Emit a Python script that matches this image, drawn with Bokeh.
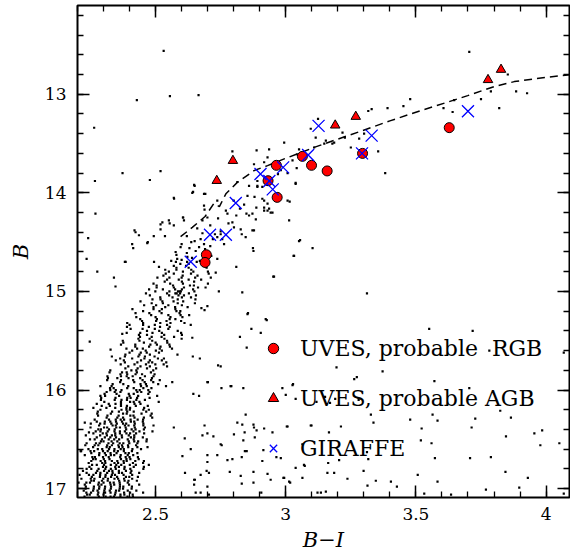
from bokeh.plotting import figure
from bokeh.models import (Range1d, LinearAxis, SingleIntervalTicker, Legend, LegendItem,
                          CustomJSTickFormatter)
from bokeh.embed import file_html
from bokeh.resources import INLINE

# ---------------- data ----------------
# UVES probable RGB stars (B-I, B)
rgb_bi = [2.964, 2.932, 2.967, 2.695, 2.690, 3.064, 3.099, 3.159, 3.295, 3.628]
rgb_b = [13.721, 13.877, 14.046, 14.628, 14.706, 13.630, 13.721, 13.778, 13.600, 13.339]

# UVES probable AGB stars
agb_bi = [2.797, 2.735, 3.190, 3.269, 3.777, 3.827]
agb_b = [13.674, 13.877, 13.315, 13.227, 12.854, 12.750]

# GIRAFFE stars
gir_bi = [2.990, 2.903, 2.937, 2.950, 2.808, 2.709, 2.770, 2.635, 3.086, 3.126, 3.293, 3.330, 3.700]
gir_b = [13.742, 13.809, 13.880, 13.965, 14.103, 14.425, 14.425, 14.699, 13.616, 13.321, 13.600, 13.420, 13.173]

# dashed fiducial line
line_bi = [2.596, 2.641, 2.690, 2.724, 2.745, 2.770, 2.814, 2.878, 2.930, 2.994, 3.050, 3.109,
           3.200, 3.295, 3.400, 3.519, 3.610, 3.699, 3.801, 3.878, 3.980, 4.096]
line_b = [14.445, 14.350, 14.240, 14.107, 14.140, 14.010, 13.894, 13.775, 13.724, 13.656, 13.600, 13.539,
          13.455, 13.369, 13.270, 13.166, 13.090, 13.014, 12.922, 12.872, 12.835, 12.800]

# photometry: rows of (B, [B-I values]) along the red giant branch
rgb_faint_rows = [
    (17.02, [2.224, 2.260, 2.277, 2.303, 2.324, 2.348, 2.360, 2.393, 2.426]),
    (16.94, [2.204, 2.234, 2.248, 2.282, 2.300, 2.325, 2.339, 2.362, 2.393]),
    (17.06, [2.237, 2.247, 2.278, 2.300, 2.344, 2.365, 2.380, 2.412]),
    (16.98, [2.232, 2.263, 2.284, 2.306, 2.329, 2.363, 2.376, 2.409]),
    (17.08, [2.227, 2.282, 2.308, 2.327, 2.340, 2.365, 2.392, 2.413]),
    (16.96, [2.228, 2.280, 2.292, 2.327, 2.341, 2.363, 2.398, 2.437]),
    (17.04, [2.234, 2.252, 2.280, 2.306, 2.327, 2.346, 2.379, 2.402, 2.452]),
    (17.00, [2.231, 2.262, 2.283, 2.305, 2.328, 2.362, 2.375, 2.408]),
    (16.86, [2.208, 2.244, 2.261, 2.287, 2.308, 2.332, 2.344, 2.377, 2.410]),
    (16.78, [2.246, 2.298, 2.310, 2.345, 2.359, 2.381, 2.416, 2.455]),
    (16.90, [2.215, 2.251, 2.265, 2.299, 2.317, 2.342, 2.356, 2.379, 2.410]),
    (16.82, [2.221, 2.276, 2.302, 2.321, 2.334, 2.359, 2.386, 2.407]),
    (16.92, [2.253, 2.263, 2.294, 2.316, 2.360, 2.381, 2.396, 2.428]),
    (16.80, [2.235, 2.253, 2.281, 2.307, 2.328, 2.347, 2.380, 2.403, 2.453]),
    (16.88, [2.255, 2.286, 2.307, 2.329, 2.352, 2.386, 2.399, 2.432]),
    (16.84, [2.235, 2.271, 2.288, 2.314, 2.335, 2.359, 2.371, 2.404, 2.437]),
    (16.70, [2.260, 2.270, 2.301, 2.323, 2.367, 2.388, 2.403, 2.435]),
    (16.62, [2.214, 2.250, 2.264, 2.298, 2.316, 2.341, 2.355, 2.378, 2.409]),
    (16.74, [2.243, 2.295, 2.307, 2.342, 2.356, 2.378, 2.413, 2.452]),
    (16.66, [2.228, 2.283, 2.309, 2.328, 2.341, 2.366, 2.393, 2.414]),
    (16.76, [2.256, 2.274, 2.302, 2.328, 2.349, 2.368, 2.401, 2.424, 2.474]),
    (16.64, [2.253, 2.284, 2.305, 2.327, 2.350, 2.384, 2.397, 2.430]),
    (16.72, [2.253, 2.289, 2.306, 2.332, 2.353, 2.377, 2.389, 2.422, 2.455]),
    (16.68, [2.257, 2.267, 2.298, 2.320, 2.364, 2.385, 2.400, 2.432]),
    (16.54, [2.235, 2.271, 2.285, 2.319, 2.337, 2.362, 2.376, 2.399, 2.430]),
    (16.46, [2.232, 2.287, 2.313, 2.332, 2.345, 2.370, 2.397, 2.418]),
    (16.58, [2.260, 2.312, 2.324, 2.359, 2.373, 2.395, 2.430, 2.469]),
    (16.50, [2.248, 2.266, 2.294, 2.320, 2.341, 2.360, 2.393, 2.416, 2.466]),
    (16.60, [2.242, 2.278, 2.295, 2.321, 2.342, 2.366, 2.378, 2.411, 2.444]),
    (16.48, [2.274, 2.305, 2.326, 2.348, 2.371, 2.405, 2.418, 2.451]),
    (16.56, [2.230, 2.266, 2.280, 2.314, 2.332, 2.357, 2.371, 2.394, 2.425]),
    (16.52, [2.290, 2.300, 2.331, 2.353, 2.397, 2.418, 2.433, 2.465]),
    (16.38, [2.250, 2.302, 2.314, 2.349, 2.363, 2.385, 2.420, 2.459]),
    (16.30, [2.266, 2.321, 2.347, 2.366, 2.379, 2.404, 2.431, 2.452]),
    (16.42, [2.270, 2.288, 2.316, 2.342, 2.363, 2.382, 2.415, 2.438, 2.488]),
    (16.34, [2.251, 2.287, 2.304, 2.330, 2.351, 2.375, 2.387, 2.420, 2.453]),
    (16.44, [2.261, 2.297, 2.311, 2.345, 2.363, 2.388, 2.402, 2.425, 2.456]),
    (16.32, [2.274, 2.305, 2.326, 2.348, 2.371, 2.405, 2.418, 2.451]),
    (16.40, [2.280, 2.290, 2.321, 2.343, 2.387, 2.408, 2.423, 2.455]),
    (16.36, [2.283, 2.335, 2.347, 2.382, 2.396, 2.418, 2.453, 2.492]),
]

rgb_mid_rows = [
    (16.22, [2.278, 2.333, 2.359, 2.391, 2.416, 2.464]),
    (16.14, [2.274, 2.320, 2.346, 2.367, 2.419, 2.442]),
    (16.26, [2.279, 2.315, 2.358, 2.403, 2.415, 2.481]),
    (16.18, [2.261, 2.311, 2.345, 2.388, 2.402, 2.456]),
    (16.28, [2.312, 2.353, 2.375, 2.419, 2.455, 2.487]),
    (16.16, [2.293, 2.324, 2.367, 2.390, 2.424, 2.470]),
    (16.24, [2.276, 2.328, 2.375, 2.389, 2.446, 2.485]),
    (16.20, [2.288, 2.369, 2.388, 2.401, 2.453, 2.474]),
    (16.06, [2.288, 2.306, 2.360, 2.400, 2.433, 2.506]),
    (15.98, [2.325, 2.339, 2.391, 2.416, 2.453, 2.484]),
    (16.10, [2.290, 2.343, 2.369, 2.390, 2.426, 2.459]),
    (16.02, [2.312, 2.343, 2.365, 2.430, 2.445, 2.477]),
    (16.12, [2.303, 2.367, 2.402, 2.416, 2.438, 2.512]),
    (16.00, [2.326, 2.347, 2.369, 2.426, 2.439, 2.472]),
    (16.08, [2.291, 2.346, 2.391, 2.404, 2.429, 2.477]),
    (16.04, [2.304, 2.350, 2.397, 2.416, 2.472]),
    (15.90, [2.314, 2.367, 2.414, 2.450, 2.483, 2.516]),
    (15.82, [2.323, 2.371, 2.389, 2.428, 2.482]),
    (15.94, [2.335, 2.376, 2.442, 2.463, 2.510]),
    (15.86, [2.315, 2.367, 2.389, 2.412, 2.459, 2.492]),
    (15.96, [2.331, 2.395, 2.444, 2.466, 2.540]),
    (15.84, [2.365, 2.391, 2.423, 2.448, 2.496]),
    (15.92, [2.364, 2.418, 2.458, 2.491, 2.564]),
    (15.88, [2.317, 2.353, 2.396, 2.441, 2.486]),
    (15.74, [2.366, 2.419, 2.463, 2.499, 2.531]),
    (15.66, [2.332, 2.382, 2.434, 2.459, 2.496]),
    (15.78, [2.384, 2.431, 2.467, 2.502]),
    (15.70, [2.347, 2.378, 2.444, 2.478, 2.524]),
    (15.80, [2.326, 2.407, 2.426, 2.491]),
    (15.68, [2.364, 2.410, 2.457, 2.509, 2.532]),
    (15.76, [2.395, 2.442, 2.478, 2.544]),
    (15.72, [2.382, 2.430, 2.473, 2.487, 2.541]),
    (15.58, [2.388, 2.429, 2.451, 2.516, 2.563]),
    (15.50, [2.374, 2.438, 2.487, 2.544]),
    (15.62, [2.400, 2.443, 2.466, 2.513]),
    (15.54, [2.367, 2.422, 2.480, 2.505, 2.553]),
    (15.64, [2.384, 2.438, 2.478, 2.584]),
    (15.52, [2.376, 2.455, 2.500, 2.545]),
    (15.60, [2.410, 2.462, 2.501, 2.524]),
    (15.56, [2.422, 2.475, 2.519, 2.555]),
]

rgb_bright_rows = [
    (15.42, [2.389, 2.441, 2.488, 2.524, 2.598]),
    (15.34, [2.400, 2.452, 2.497, 2.544]),
    (15.46, [2.440, 2.485, 2.523, 2.571]),
    (15.38, [2.404, 2.450, 2.497, 2.549]),
    (15.48, [2.434, 2.477, 2.534, 2.600]),
    (15.36, [2.390, 2.474, 2.517, 2.554]),
    (15.44, [2.436, 2.467, 2.533, 2.601]),
    (15.40, [2.467, 2.514, 2.585]),
    (15.26, [2.426, 2.500, 2.557, 2.603]),
    (15.18, [2.411, 2.492, 2.524, 2.576]),
    (15.30, [2.448, 2.502, 2.542, 2.598]),
    (15.22, [2.423, 2.476, 2.523, 2.592]),
    (15.32, [2.452, 2.518, 2.557, 2.611]),
    (15.20, [2.452, 2.515, 2.580, 2.595]),
    (15.28, [2.441, 2.505, 2.554, 2.576]),
    (15.24, [2.483, 2.549, 2.596, 2.629]),
    (15.16, [2.492, 2.537, 2.575, 2.623]),
    (15.14, [2.456, 2.502, 2.549, 2.601]),
    (15.12, [2.485, 2.528, 2.585, 2.651]),
    (15.10, [2.442, 2.526, 2.569, 2.606]),
    (15.08, [2.488, 2.519, 2.585, 2.653]),
    (15.06, [2.518, 2.565, 2.601, 2.636]),
    (15.04, [2.478, 2.552, 2.588, 2.609, 2.655]),
    (15.02, [2.463, 2.544, 2.576, 2.581, 2.594, 2.628]),
    (15.00, [2.499, 2.553, 2.586, 2.593, 2.597, 2.649]),
    (14.98, [2.475, 2.528, 2.575, 2.601, 2.644]),
    (14.96, [2.504, 2.570, 2.609, 2.663]),
    (14.94, [2.504, 2.567, 2.632, 2.647]),
    (14.92, [2.492, 2.556, 2.605, 2.701]),
    (14.90, [2.535, 2.601, 2.648]),
    (14.88, [2.544, 2.589, 2.627, 2.675]),
    (14.86, [2.507, 2.553, 2.600, 2.652]),
    (14.78, [2.537, 2.580, 2.637]),
    (14.70, [2.494, 2.578, 2.621, 2.658]),
    (14.82, [2.539, 2.570, 2.636, 2.704]),
    (14.74, [2.570, 2.617, 2.688]),
    (14.84, [2.530, 2.604, 2.661]),
    (14.72, [2.595, 2.627, 2.679]),
    (14.80, [2.551, 2.605, 2.645, 2.701]),
    (14.76, [2.580, 2.627, 2.696]),
]

# brighter giants, (B-I, B) pairs
branch_stars = [
    (2.385, 14.70), (2.410, 14.52), (2.414, 14.56), (2.423, 14.40), (2.436, 14.43), (2.470, 14.50),
    (2.493, 14.44), (2.519, 14.32), (2.519, 14.37), (2.536, 14.44), (2.554, 14.31), (2.570, 14.33),
    (2.570, 14.05), (2.605, 14.25), (2.609, 14.28), (2.641, 14.00), (2.650, 13.93), (2.637, 14.50),
    (2.673, 14.47), (2.667, 14.55), (2.654, 14.59), (2.686, 14.52), (2.691, 14.01), (2.686, 14.13),
    (2.680, 14.28), (2.699, 14.25), (2.728, 14.42), (2.737, 14.45), (2.750, 14.42), (2.756, 14.47),
    (2.763, 14.52), (2.776, 14.21), (2.795, 14.30), (2.801, 14.35), (2.824, 14.16), (2.827, 14.37),
    (2.831, 14.42), (2.846, 14.45), (2.853, 14.03), (2.859, 14.23), (2.872, 14.21), (2.878, 14.38),
    (2.876, 14.59), (2.885, 14.27), (2.891, 13.94), (2.910, 14.06), (2.917, 14.15), (2.930, 14.11),
    (2.936, 14.16), (2.949, 14.20), (3.007, 14.08), (3.013, 14.28), (3.032, 14.64), (3.038, 13.91),
    (3.051, 14.49), (2.577, 14.60), (2.583, 14.67), (2.622, 14.65), (2.596, 14.55), (2.714, 14.64),
    (2.737, 14.67), (2.560, 14.69), (2.600, 14.68), (2.640, 14.66), (2.670, 14.69), (2.700, 14.62),
    (2.620, 14.61), (2.580, 14.63), (2.690, 14.57), (2.630, 14.56), (2.710, 14.54), (2.600, 14.52),
    (2.650, 14.49), (2.720, 14.47), (2.620, 14.44), (2.680, 14.41), (2.750, 14.39), (2.660, 14.36),
    (2.710, 14.33), (2.780, 14.31), (2.740, 14.26), (2.810, 14.23), (2.770, 14.18), (2.840, 14.12),
    (2.800, 14.08), (2.880, 14.04),
]

upper_stars = [
    (2.878, 13.71), (2.917, 13.69), (2.930, 13.64), (2.955, 13.74), (2.891, 13.88), (2.859, 13.93),
    (2.891, 13.93), (2.917, 14.08), (2.930, 14.18), (2.942, 14.20), (2.917, 14.18), (2.887, 14.15),
    (2.849, 14.21), (2.872, 14.38), (2.910, 13.94), (2.970, 13.81), (2.981, 13.77), (3.026, 13.67),
    (3.045, 13.61), (3.051, 13.56), (3.007, 13.80), (3.042, 13.75), (3.109, 13.54), (3.148, 13.50),
    (3.179, 13.50), (3.218, 13.39), (3.227, 13.44), (3.186, 13.49), (3.154, 13.47), (3.115, 13.44),
    (3.096, 13.35), (3.124, 13.25), (3.250, 13.54), (3.282, 13.45), (3.301, 13.40), (3.355, 13.58),
    (3.382, 13.80), (3.038, 13.90), (3.015, 14.09), (2.994, 13.49), (3.055, 14.48), (3.103, 14.56),
    (3.030, 14.64), (3.317, 13.17), (3.330, 13.15), (3.391, 13.14), (3.452, 13.12), (3.478, 13.05),
    (3.606, 13.14), (3.641, 13.18), (3.647, 13.06), (3.750, 13.05), (3.788, 12.97), (3.820, 13.14),
    (3.853, 12.80), (3.885, 12.97), (3.927, 12.99), (3.705, 12.57), (2.795, 13.58), (2.814, 13.89),
    (2.888, 13.57), (2.936, 13.56),
]

field_stars = [
    (2.531, 12.56), (2.428, 13.06), (2.555, 13.02), (2.665, 13.01), (2.264, 13.34), (2.373, 13.80),
    (2.519, 13.78), (2.267, 13.88), (2.478, 13.87), (2.571, 14.06), (2.269, 14.21), (2.241, 14.46),
    (2.419, 14.38), (2.468, 14.51), (2.526, 14.30), (2.551, 14.28), (2.606, 14.25), (2.648, 13.92),
    (2.644, 13.99), (2.686, 14.01), (2.688, 14.17), (2.737, 14.08), (2.235, 14.67), (2.276, 14.80),
    (2.382, 14.70), (2.340, 14.86), (2.513, 14.75), (2.874, 14.56), (2.810, 14.75), (2.955, 14.85),
    (2.833, 15.01), (2.952, 14.85), (2.855, 15.22), (2.927, 15.29), (2.868, 15.38), (2.904, 15.42),
    (2.824, 15.46), (2.850, 15.57), (2.750, 15.76), (2.701, 15.92), (2.753, 15.98), (2.791, 15.96),
    (2.837, 15.98), (2.645, 16.04), (2.667, 16.06), (2.987, 15.98), (3.026, 15.95), (3.000, 16.05),
    (3.038, 16.09), (2.846, 16.25), (2.814, 16.33), (2.833, 16.35), (2.876, 16.35), (2.917, 16.39),
    (2.688, 16.36), (2.722, 16.47), (2.680, 16.46), (2.699, 16.44), (2.949, 16.43), (2.888, 16.41),
    (2.842, 16.43), (2.837, 16.51), (2.881, 16.48), (3.007, 16.37), (3.099, 16.36), (2.612, 16.49),
    (2.754, 16.56), (2.914, 16.61), (2.850, 16.62), (2.635, 16.60), (2.699, 16.66), (2.737, 16.66),
    (2.776, 16.71), (2.795, 16.70), (2.831, 16.68), (2.910, 16.72), (2.964, 16.68), (2.981, 16.69),
    (2.699, 16.73), (2.613, 16.84), (2.673, 16.86), (2.696, 16.82), (2.785, 16.83), (2.827, 16.87),
    (2.876, 16.83), (2.942, 16.91), (2.991, 16.89), (3.038, 16.79), (3.073, 16.77), (3.064, 16.89),
    (2.651, 16.91), (2.699, 16.98), (2.831, 16.95), (2.876, 16.94), (3.017, 16.94), (2.654, 17.04),
    (2.705, 17.06), (2.906, 17.04), (3.122, 17.04), (3.312, 15.02), (3.551, 15.38), (3.718, 15.40),
    (3.195, 15.77), (3.273, 15.87), (3.263, 15.89), (3.372, 15.81), (3.571, 15.91), (3.705, 15.98),
    (4.068, 15.62), (3.782, 15.60), (3.824, 16.21), (3.865, 16.28), (3.728, 16.29), (3.564, 16.25),
    (3.583, 16.31), (3.478, 16.30), (3.327, 16.25), (3.337, 16.33), (3.170, 16.13), (3.118, 16.12),
    (3.151, 16.07), (3.028, 15.94), (3.096, 16.36), (3.166, 16.43), (3.212, 16.37), (3.004, 16.37),
    (3.522, 16.39), (3.714, 16.38), (3.846, 16.47), (3.955, 16.44), (3.985, 16.41), (3.978, 16.56),
    (4.051, 16.54), (3.519, 16.51), (3.560, 16.54), (3.573, 16.69), (3.708, 16.69), (3.788, 16.68),
    (3.312, 16.63), (3.317, 16.70), (3.163, 16.74), (3.205, 16.71), (3.070, 16.76), (3.160, 16.84),
    (3.186, 16.84), (3.237, 16.90), (3.299, 16.82), (3.346, 16.92), (3.404, 16.93), (3.427, 16.98),
    (3.507, 16.86), (3.583, 16.93), (3.844, 16.83), (3.930, 16.89), (3.314, 16.97), (3.013, 16.93),
    (3.135, 17.04), (3.154, 17.03), (3.532, 17.05), (3.635, 17.06), (3.769, 17.01), (3.897, 16.99),
    (4.068, 17.05), (3.064, 16.55), (3.190, 16.09), (3.280, 16.10), (2.743, 15.00), (2.731, 14.81),
    (2.712, 14.86), (2.692, 14.96), (2.699, 15.15), (2.676, 15.17), (2.688, 15.19), (2.635, 15.34),
    (2.641, 15.47), (2.346, 14.95), (2.391, 15.32), (2.372, 15.43), (2.247, 15.51), (2.228, 16.33),
    (2.327, 15.59), (2.288, 15.96), (2.244, 16.43), (2.212, 16.62), (2.570, 16.38), (2.603, 16.67),
    (2.648, 16.91), (2.673, 17.04), (2.705, 16.84), (2.750, 16.55), (2.788, 15.96), (2.853, 15.23),
    (2.670, 15.68), (2.643, 15.66), (2.699, 15.92), (2.740, 15.75), (2.923, 15.28), (2.801, 16.45),
    (2.843, 16.62), (2.878, 16.38), (2.930, 16.85), (2.994, 16.89), (2.648, 16.96),
]

legend_labels = ["UVES, probable\u00a0\u00a0RGB", "UVES, probable AGB", "GIRAFFE"]

# ---------------- assemble photometry ----------------
phot_bi, phot_b = [], []
for rows in (rgb_faint_rows, rgb_mid_rows, rgb_bright_rows):
    for b, row in rows:
        for bi in row:
            phot_bi.append(bi)
            phot_b.append(b)
for pairs in (branch_stars, upper_stars, field_stars):
    for bi, b in pairs:
        phot_bi.append(bi)
        phot_b.append(b)

# ---------------- figure ----------------
p = figure(width=570, height=554, x_range=Range1d(2.2, 4.09), y_range=Range1d(17.09, 12.1),
           output_backend="svg", toolbar_location=None,
           min_border_left=77, min_border_right=1, min_border_top=5, min_border_bottom=57)
p.xgrid.visible = False
p.ygrid.visible = False
p.outline_line_color = "black"
p.outline_line_width = 2
p.background_fill_color = "white"
p.border_fill_color = "white"

SERIF = "DejaVu Serif"


def style_axis(ax, interval, show):
    ax.ticker = SingleIntervalTicker(interval=interval, num_minor_ticks=5)
    ax.axis_line_color = None
    ax.major_tick_in = 12
    ax.major_tick_out = 0
    ax.minor_tick_in = 6
    ax.minor_tick_out = 0
    ax.major_tick_line_width = 1.5
    ax.minor_tick_line_width = 1.3
    ax.major_tick_line_color = "black"
    ax.minor_tick_line_color = "black"
    if show:
        ax.major_label_text_font = SERIF
        ax.major_label_text_font_size = "17px"
        ax.major_label_text_color = "black"
        ax.axis_label_text_font = SERIF
        ax.axis_label_text_font_size = "21px"
        ax.axis_label_text_font_style = "italic"
        ax.axis_label_text_color = "black"
    else:
        # tick marks only: no tick labels on the mirrored axes
        ax.formatter = CustomJSTickFormatter(code="return '';")
        ax.major_label_text_font_size = "1px"
        ax.major_label_standoff = 0
        ax.axis_label = None


xax = p.xaxis[0]
yax = p.yaxis[0]
style_axis(xax, 0.5, True)
style_axis(yax, 1.0, True)
xax.formatter = CustomJSTickFormatter(code="return String(Math.round(tick*10)/10);")
xax.axis_label = "B\u2212I"
yax.axis_label = "B"
xax.major_label_standoff = 10
xax.axis_label_standoff = 5
yax.major_label_standoff = 11
yax.axis_label_standoff = 9

top_ax = LinearAxis()
right_ax = LinearAxis()
style_axis(top_ax, 0.5, False)
style_axis(right_ax, 1.0, False)
p.add_layout(top_ax, "above")
p.add_layout(right_ax, "right")

# photometry dots
p.scatter(phot_bi, phot_b, marker="square", size=2.2, fill_color="black", line_color=None)

# fiducial
p.line(line_bi, line_b, line_color="black", line_width=1.5, line_dash="8 5")

r_rgb = p.scatter(rgb_bi, rgb_b, marker="circle", size=10, fill_color="#ff0000",
                  line_color="black", line_width=1)
r_agb = p.scatter(agb_bi, agb_b, marker="triangle", size=9.5, fill_color="#ff0000",
                  line_color="black", line_width=1)
r_gir = p.scatter(gir_bi, gir_b, marker="x", size=17, line_color="#0000ff", line_width=1.3)

legend = Legend(items=[LegendItem(label=legend_labels[0], renderers=[r_rgb]),
                       LegendItem(label=legend_labels[1], renderers=[r_agb]),
                       LegendItem(label=legend_labels[2], renderers=[r_gir])],
                location=(183, 36), orientation="vertical",
                border_line_color=None, background_fill_alpha=0,
                label_text_font=SERIF, label_text_font_size="22px", label_text_color="black",
                glyph_width=26, glyph_height=26, label_height=26,
                spacing=24, padding=0, margin=0, label_standoff=14)
p.add_layout(legend)

open("out.html", "w").write(file_html(p, INLINE))
